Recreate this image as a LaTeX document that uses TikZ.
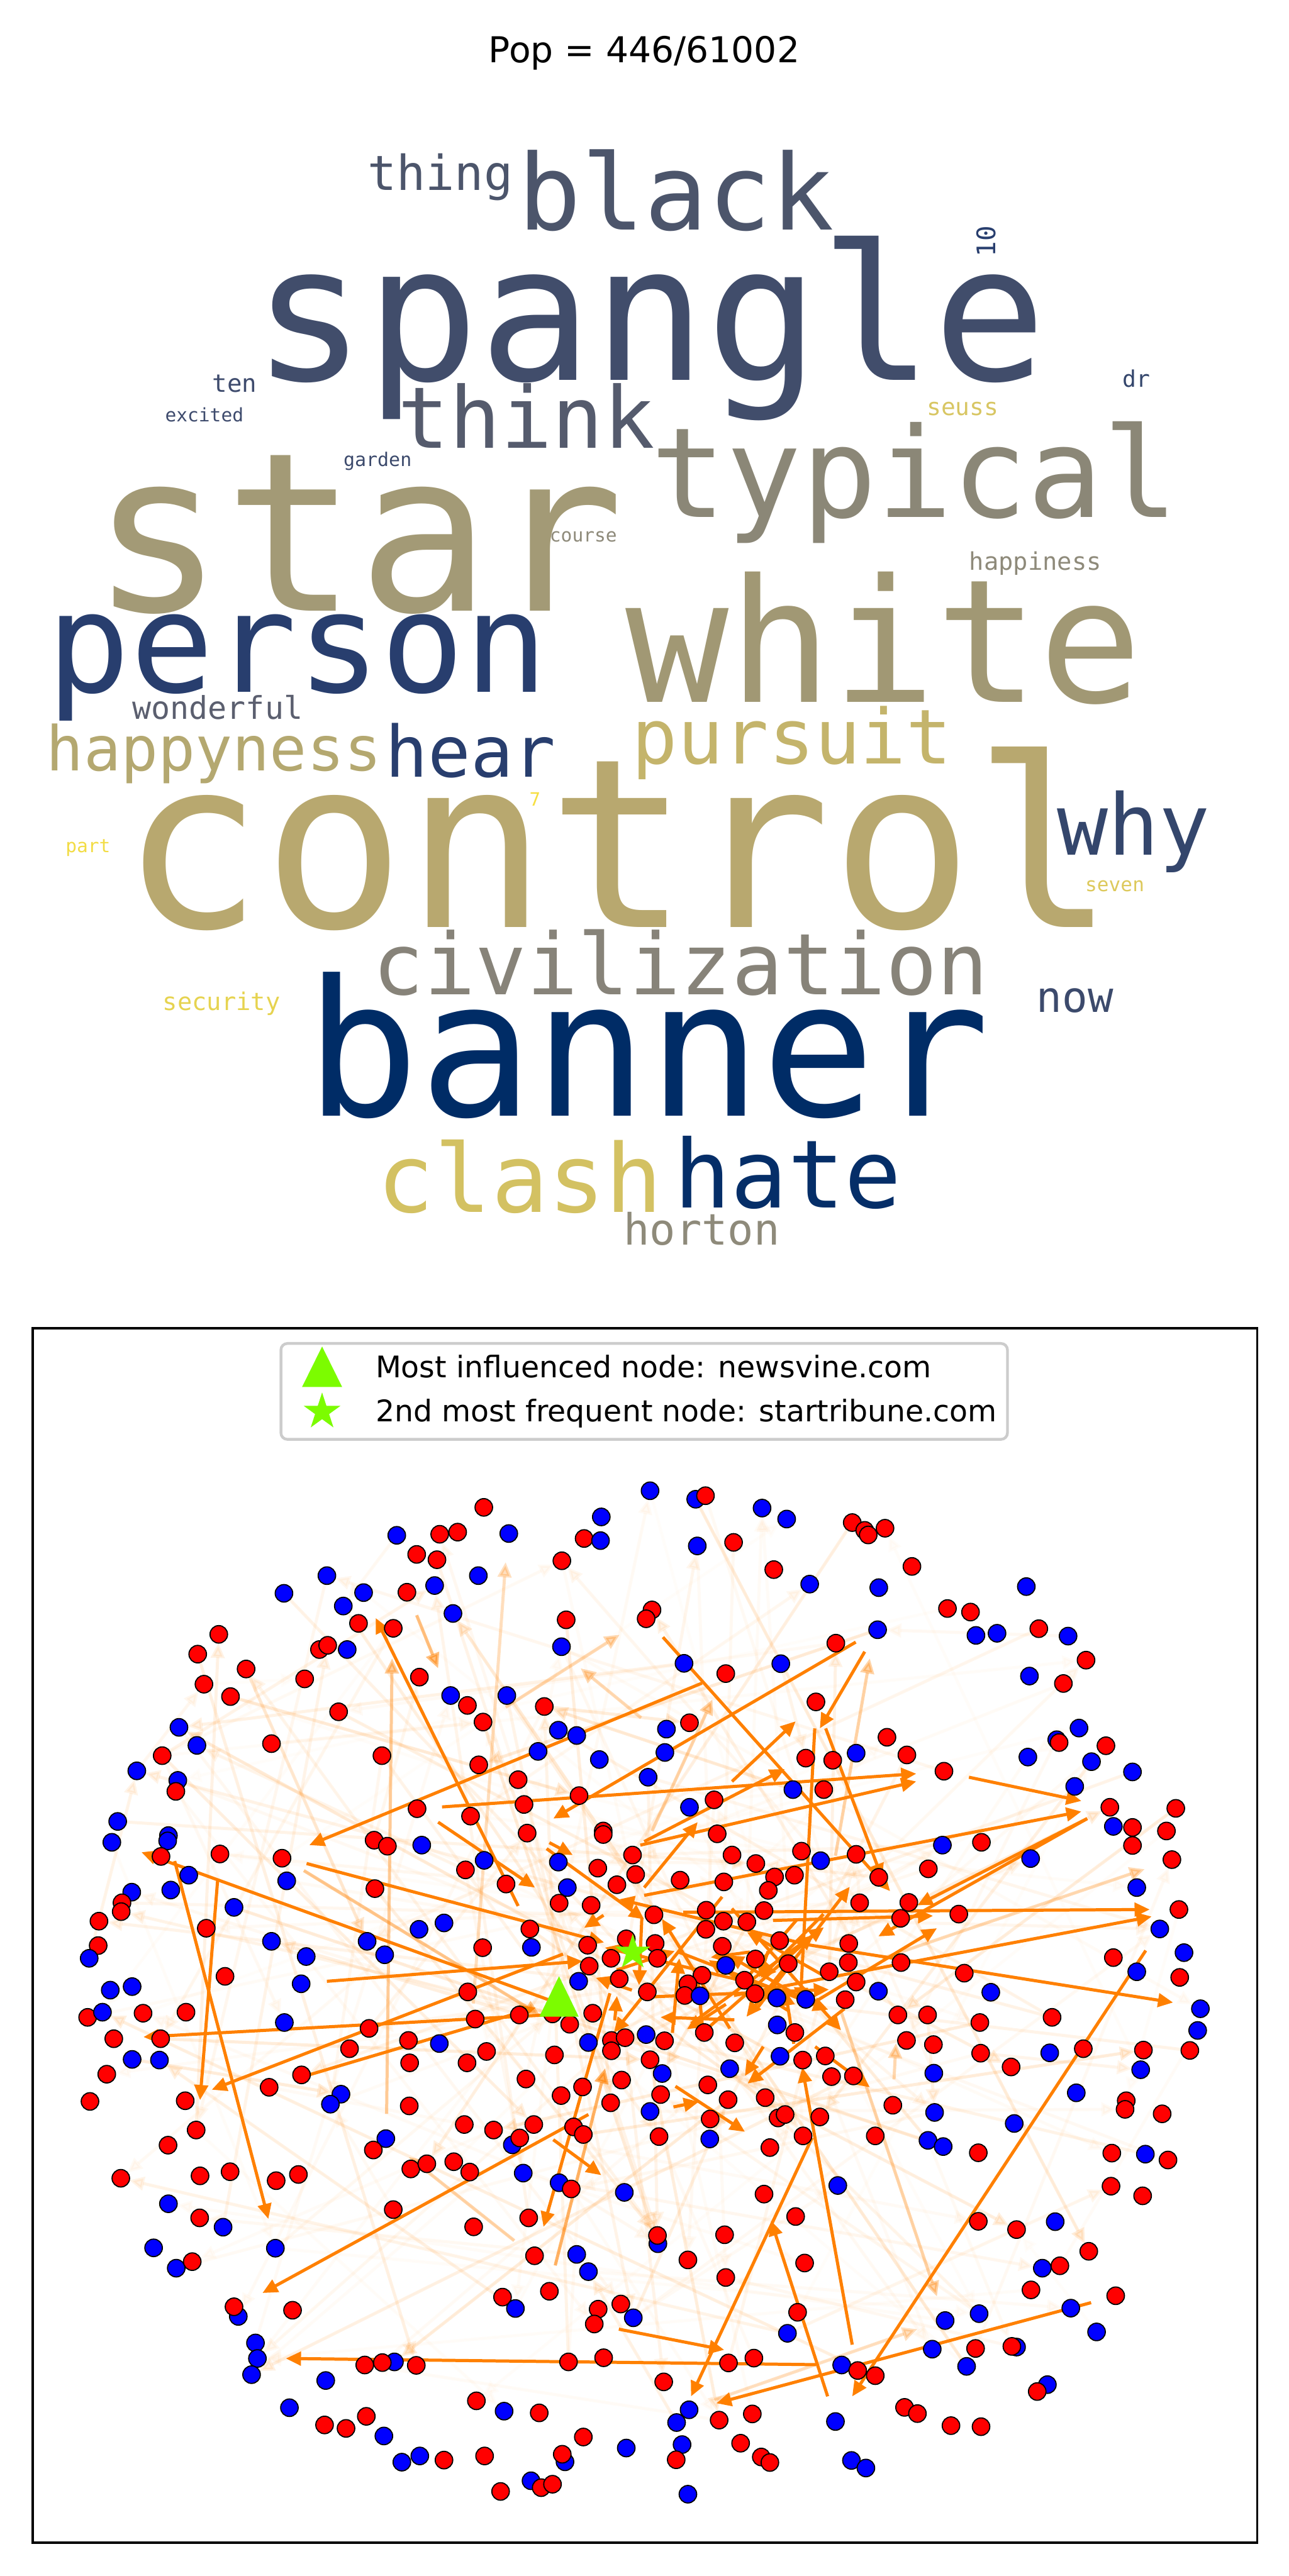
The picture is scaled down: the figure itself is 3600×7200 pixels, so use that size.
\documentclass[tikz,border=0pt]{standalone}
\usepackage{fontspec}
\setmainfont{DejaVu Sans}
\newfontfamily\wcfont{DejaVu Sans Mono}
\usetikzlibrary{arrows.meta,shapes.geometric}
\newcommand\wcf[1]{\wcfont\fontsize{#1pt}{#1pt}\selectfont}
\definecolor{r}{HTML}{FF0000}
\definecolor{b}{HTML}{0000FF}
\definecolor{orng}{RGB}{255,128,0}
\definecolor{lgreen}{HTML}{7CFC00}
\definecolor{legendgray}{HTML}{CCCCCC}
\definecolor{cBanner}{HTML}{002C66}
\definecolor{cHate}{HTML}{052E68}
\definecolor{cPerson}{HTML}{283E6E}
\definecolor{cSpangle}{HTML}{414D6B}
\definecolor{cBlack}{HTML}{4C556B}
\definecolor{cThink}{HTML}{555B6D}
\definecolor{cWhy}{HTML}{34466C}
\definecolor{cNow}{HTML}{3C4A6C}
\definecolor{cTen}{HTML}{3E4B6D}
\definecolor{cWonder}{HTML}{5B5F6F}
\definecolor{cCiv}{HTML}{878379}
\definecolor{cHorton}{HTML}{8E8A7A}
\definecolor{cTypical}{HTML}{8B8777}
\definecolor{cWhite}{HTML}{A19874}
\definecolor{cStar}{HTML}{A39A76}
\definecolor{cHappyness}{HTML}{B4A870}
\definecolor{cControl}{HTML}{B8A86F}
\definecolor{cPursuit}{HTML}{C4B46B}
\definecolor{cClash}{HTML}{D3C162}
\definecolor{cSeuss}{HTML}{D8C663}
\definecolor{cSeven}{HTML}{DDC95C}
\definecolor{cSecurity}{HTML}{E6D350}
\definecolor{cPart}{HTML}{F2DC45}
\definecolor{cSevenD}{HTML}{F6DF41}
\def\ptsA{r/1157/165, b/1458/192, b/934/244, r/1044/241, r/1090/235, b/1221/239, r/1414/253, b/1456/259, r/985/298, r/1037/313, r/1357/316, b/755/358, b/1143/358, b/645/408, b/849/406, r/960/405, b/1031/386, b/797/444, b/1078/465, r/1368/483, r/478/524, r/836/493, r/925/507, b/1356/559, r/424/580, r/736/567, r/757/555, b/807/567, r/548/622, r/698/650, r/992/645, r/440/665, r/508/700, b/1072/697, b/1216/697, r/1115/725, r/1312/728, r/785/743, r/1155/772, b/376/787, b/1348/795, b/1395/810, r/613/833, b/422/838, r/333/867, r/896/867, b/1296/855, b/1453/878, r/1144/893, b/268/910, b/373/937, r/368/968, r/1245/935, r/1401/980, r/986/1017, r/1260/1005, r/1123/1038, b/219/1053, b/349/1093, b/347/1108, b/204/1112, r/876/1106, r/910/1123, b/998/1120, r/1268/1086, r/1463/1080, r/1463/1090, r/330/1152, r/481/1145, r/640/1157, b/652/1221, b/401/1205, b/1158/1163, r/1110/1190, b/1348/1168, r/1538/1148, r/1449/1185, r/1546/1203, r/1498/1232, b/255/1253, b/355/1247, r/878/1243, r/1214/1230, b/1371/1240, r/230/1283, r/228/1308, b/517/1296, r/1350/1284, r/1432/1290, r/171/1335, r/446/1355, b/991/1358, b/1055/1340, r/1275/1357, r/169/1404, b/146/1440, b/613/1392, b/858/1392, b/903/1430, b/702/1435, r/1154/1410, b/1279/1409, r/1423/1403, r/1522/1385, r/1427/1462, r/1483/1440, b/200/1530, b/256/1520, r/494/1491, b/689/1512, r/1116/1535, b/1400/1505, r/1504/1498}
\def\ptsB{b/15/118, b/132/142, r/157/132, b/302/167, b/365/198, r/533/208, r/565/230, r/574/243, r/617/224, b/136/274, r/229/264, r/332/341, b/424/382, b/601/392, r/686/332, b/979/389, r/777/451, r/836/461, b/850/527, b/904/521, r/1011/508, b/1086/529, r/20/455, r/5/480, b/598/511, r/491/549, r/1132/597, b/102/606, b/350/607, r/209/635, b/987/642, r/1074/663, r/440/715, b/57/792, r/116/774, b/1114/789, b/1057/822, r/1063/830, r/1183/839, b/53/858, r/622/815, r/673/865, b/543/860, r/414/874, r/483/880, r/768/911, b/983/871, b/1146/884, b/1251/913, b/10/928, b/381/963, r/460/963, b/1103/954, r/179/992, r/1193/1013, r/1362/1016, b/116/1013, b/1202/1067, r/1251/1070, r/1338/1080, r/187/1088, r/1251/1121, b/764/1120, r/864/1112, r/225/1148, r/403/1137, r/543/1146, b/452/1164, b/990/1158, r/286/1172, r/1352/1161, r/728/1187, r/92/1219, r/204/1224, r/334/1210, r/385/1205, r/601/1211, r/318/1248, b/1262/1240, r/552/1283, r/678/1282, r/25/1317, r/159/1304, r/307/1305, r/203/1335, r/263/1337, r/657/1327, r/806/1315, r/1370/1302, b/1321/1357, r/158/1358, r/347/1390, r/524/1398, r/200/1406, r/28/1398, r/34/1440, b/209/1460, r/285/1442, r/369/1455, r/474/1478, r/523/1452, r/658/1452, r/820/1482, r/1202/1438, b/1383/1424, b/1262/1478, r/1372/1494, r/148/1488, r/112/1512, r/257/1502, r/543/1507, b/600/1533, b/888/1536, r/8/1535, r/104/1545, b/143/1546, r/284/1540, b/340/1552, b/414/1556, r/515/1557}
\def\ptsC{r/142/40, b/180/25, r/284/28, r/394/25, b/646/55, r/863/72, r/1135/45, r/1248/33, r/1333/30, r/1377/60, r/1436/28, r/209/102, r/329/102, b/256/162, b/326/164, r/191/205, r/148/284, r/392/282, r/813/131, r/964/107, b/1043/116, r/967/172, r/1114/172, r/1164/139, r/1338/149, b/1425/113, r/1484/107, r/1519/99, r/1484/137, r/690/207, r/607/243, b/791/263, b/764/292, r/966/297, r/1265/219, r/1355/267, r/1410/242, r/1510/222, r/1482/288, r/420/367, r/348/411, b/906/392, r/874/425, r/1107/351, r/1182/367, r/1285/351, b/1230/410, r/1249/390, r/1387/358, r/1412/380, r/227/507, r/430/500, r/507/488, r/625/514, r/682/496, r/970/480, r/1011/465, r/1080/459, r/1121/489, b/1258/492, b/1350/520, r/1381/538, b/1517/548, b/349/581, r/429/622, b/489/649, r/925/598, r/1131/648, r/1272/622, b/311/709, b/623/710, b/369/768, r/410/749, r/1287/732, b/1395/728, b/1425/778, b/528/908, r/517/880, r/667/890, r/1205/852, b/1238/885, r/1325/835, r/1450/887, r/1440/930, r/1508/872, b/1540/912, b/572/985, b/577/1030, b/562/1077, r/852/1049, b/928/1040, r/897/1042, r/984/1050, r/1374/1040, r/1464/1028, b/752/1094, r/1138/1153, b/1209/1183, r/1299/1188, b/659/1173, r/749/1223, r/804/1233, r/856/1198, b/901/1255, r/1412/1258, b/1522/1290, b/947/1331, b/993/1313, r/1055/1325, r/1159/1313, b/1365/1330, r/1358/1308, b/1278/1385, r/1304/1405, r/1333/1395, r/1200/1416}
\def\ptsD{b/1425/15, r/650/33, r/726/33, r/860/55, r/1045/40, b/1418/78, b/5/90, r/52/108, r/154/84, b/341/62, r/386/84, r/672/107, r/741/119, r/1279/135, r/1398/136, r/1125/131, b/1039/143, r/862/144, r/940/184, b/1272/192, r/15/163, b/46/203, r/232/114, b/219/189, b/348/153, r/406/164, r/464/152, r/480/212, r/536/210, b/742/202, r/163/236, r/42/264, r/215/279, r/310/273, b/1107/259, r/1235/282, r/1232/307, r/1327/320, r/637/295, b/744/316, b/948/348, b/15/313, r/169/335, r/343/332, r/361/322, r/450/329, r/38/386, b/168/393, r/322/418, r/407/384, r/592/384, b/727/397, b/766/415, r/856/433, r/1198/434, b/1284/437, r/1342/454, b/496/528, r/307/553, r/1196/530, r/1277/558, r/388/618, r/856/632, r/954/656, b/1053/633, b/35/697, r/34/673, r/206/671, r/1139/719, r/112/744, r/411/753, b/1020/768, r/1065/761, r/209/795, r/991/831, r/1208/848, r/393/896, b/1093/884, b/771/920, b/858/900, b/367/957, b/1159/953, b/738/1003, b/954/997, r/942/995, r/849/1001, b/826/1053, r/216/1043, r/281/1029, b/506/1049, r/547/1065, r/592/1080, r/50/1098, b/1033/1106, r/1007/1126, b/115/1179, b/83/1216, r/192/1209, r/277/1191, b/490/1213, r/667/1172, r/700/1190, r/786/1225, r/863/1228, b/97/1280, r/247/1276, r/82/1324, r/300/1316, r/322/1332, b/531/1326, b/568/1348, b/112/1424}
\begin{document}
\begin{tikzpicture}[x=0.005cm,y=-0.005cm,
  wc/.style={anchor=base, inner sep=0pt, outer sep=0pt},
  dot/.style={circle, inner sep=0pt, outer sep=0pt, minimum size=0.245cm, draw=black, line width=0.45pt},
  sarrow/.style={draw=orng, fill=orng, line width=1.25pt, -{Triangle[length=6pt,width=5.4pt]}},
  cropA/.style={shift={(90,4050)},xscale=1.0906,yscale=0.98852},
  cropB/.style={shift={(1800,4050)},xscale=1.0906,yscale=0.98852},
  cropC/.style={shift={(90,5600)},xscale=1.0906,yscale=0.963},
  cropD/.style={shift={(1800,5600)},xscale=1.0906,yscale=0.963}]
\useasboundingbox (0,0) rectangle (3600,7200);
% ---------- title ----------
\node[anchor=base, inner sep=0pt, font=\fontsize{14.2pt}{14.2pt}\selectfont] (title) at (1800,175) {Pop = 446/61002};
% ---------- word cloud ----------
\node[wc,text=cControl,font=\wcf{93.9}] (wcontrol) at (1728,2592) {control};
\node[wc,text=cStar,font=\wcf{88.2}] (wstar) at (1000,1708) {star};
\node[wc,text=cSpangle,font=\wcf{75.0}] (wspangle) at (1815,1063) {spangle};
\node[wc,text=cBanner,font=\wcf{75.4}] (wbanner) at (1810,3119) {banner};
\node[wc,text=cWhite,font=\wcf{68.3}] (wwhite) at (2470,1962) {white};
\node[wc,text=cPerson,font=\wcf{55.2}] (wperson) at (831,1934) {person};
\node[wc,text=cTypical,font=\wcf{49.8}] (wtypical) at (2556,1445) {typical};
\node[wc,text=cBlack,font=\wcf{41.8}] (wblack) at (1890,642) {black};
\node[wc,text=cClash,font=\wcf{37.7}] (wclash) at (1453,3388) {clash};
\node[wc,text=cHate,font=\wcf{37.6}] (whate) at (2201,3376) {hate};
\node[wc,text=cWhy,font=\wcf{33.7}] (wwhy) at (3167,2389) {why};
\node[wc,text=cThink,font=\wcf{33.9}] (wthink) at (1471,1252) {think};
\node[wc,text=cCiv,font=\wcf{33.9}] (wciv) at (1902,2780) {civilization};
\node[wc,text=cPursuit,font=\wcf{30.2}] (wpursuit) at (2213,2135) {pursuit};
\node[wc,text=cPerson,font=\wcf{28.2}] (whear) at (1315,2171) {hear};
\node[wc,text=cHappyness,font=\wcf{24.6}] (whappyness) at (598,2154) {happyness};
\node[wc,text=cBlack,font=\wcf{19.2}] (wthing) at (1230,532) {thing};
\node[wc,text=cHorton,font=\wcf{17.2}] (whorton) at (1961,3479) {horton};
\node[wc,text=cNow,font=\wcf{16.9}] (wnow) at (3004,2830) {now};
\node[wc,text=cWonder,font=\wcf{12.5}] (wwonderful) at (608,2010) {wonderful};
\node[wc,text=cPerson,font=\wcf{10.2},rotate=90] (wten10) at (2782,675) {10};
\node[wc,text=cTen,font=\wcf{9.8}] (wten) at (656,1096) {ten};
\node[wc,text=cSecurity,font=\wcf{9.7}] (wsecurity) at (619,2824) {security};
\node[wc,text=cHorton,font=\wcf{9.7}] (whappiness) at (2893,1594) {happiness};
\node[wc,text=cSeuss,font=\wcf{9.5}] (wseuss) at (2690,1161) {seuss};
\node[wc,text=cWhy,font=\wcf{9.1}] (wdr) at (3175,1082) {dr};
\node[wc,text=cSeven,font=\wcf{7.8}] (wseven) at (3115,2492) {seven};
\node[wc,text=cTen,font=\wcf{7.4}] (wexcited) at (571,1178) {excited};
\node[wc,text=cNow,font=\wcf{7.5}] (wgarden) at (1055,1304) {garden};
\node[wc,text=cHorton,font=\wcf{7.4}] (wcourse) at (1630,1515) {course};
\node[wc,text=cPart,font=\wcf{7.4}] (wpart) at (246,2383) {part};
\node[wc,text=cSevenD,font=\wcf{7.3}] (wseven7) at (1495,2252) {7};
% ---------- graph: coordinates ----------
\begin{scope}[cropA]
\foreach \cc/\x/\y [count=\k] in \ptsA {\coordinate (pa\k) at (\x,\y);}
\coordinate (A1h) at (710,1120);
\coordinate (A2t) at (1245,1292); \coordinate (A2h) at (880,478);
\coordinate (A3t) at (1050,1012);
\coordinate (A4h) at (1335,1045);
\coordinate (A5t) at (1040,1055); \coordinate (A5h) at (1288,1240);
\coordinate (A6t) at (1325,1113); \coordinate (A6h) at (1385,1148);
\coordinate (A7t) at (1330,1560); \coordinate (A7h) at (280,1140);
\coordinate (B1t) at (365,1165); \coordinate (B2t) at (475,1220);
\coordinate (A9t) at (703,1172); \coordinate (A9h) at (1465,1395);
\coordinate (A11t) at (755,1505); \coordinate (A11h) at (1410,1448);
\coordinate (A12t) at (1360,1428);
\coordinate (A13t) at (696,1192); \coordinate (A13h) at (1300,1600);
\coordinate (A14t) at (1318,1130); \coordinate (A14h) at (1568,1330);
\coordinate (M1h) at (922,592);
\coordinate (M2t) at (985,470); \coordinate (M2h) at (1040,620);
\coordinate (M3t) at (1213,730); \coordinate (M3h) at (1505,525);
\coordinate (M5t) at (1130,1568); \coordinate (M5h) at (1213,320);
\coordinate (M6t) at (1560,760); \coordinate (M6h) at (1405,620);
\end{scope}
\begin{scope}[cropB]
\foreach \cc/\x/\y [count=\k] in \ptsB {\coordinate (pb\k) at (\x,\y);}
\coordinate (A1t) at (148,662); \coordinate (A3h) at (697,918); \coordinate (A4t) at (542,546);
\coordinate (E1t) at (48,532); \coordinate (E1h) at (630,1250);
\coordinate (E2t) at (565,573); \coordinate (E2h) at (450,790);
\coordinate (E3t) at (465,790); \coordinate (E3h) at (610,1215);
\coordinate (E4t) at (225,940); \coordinate (E4h) at (388,770);
\coordinate (E7t) at (-10,1120); \coordinate (E7h) at (697,940);
\coordinate (E8t) at (0,1262); \coordinate (E8h) at (1120,1025);
\coordinate (E9t) at (832,928); \coordinate (E9h) at (1120,995);
\coordinate (E10t) at (1135,1045); \coordinate (E10h) at (600,1378); \coordinate (E10bh) at (700,1290);
\coordinate (E11t) at (100,1310); \coordinate (E11h) at (1295,1302);
\coordinate (E12t) at (230,1545); \coordinate (E12h) at (1300,1322);
\coordinate (E13t) at (410,1400); \coordinate (E13h) at (1355,1565);
\coordinate (E16t) at (0,1240); \coordinate (E16h) at (137,1055);
\coordinate (E17t) at (330,1333); \coordinate (E17h) at (740,1320);
\coordinate (E18t) at (430,1568); \coordinate (E18h) at (750,1355);
\coordinate (E20t) at (0,1110); \coordinate (E20h) at (360,905);
\coordinate (E25t) at (437,790); \coordinate (E25h) at (400,1565);
\coordinate (D2t) at (1285,1418);
\coordinate (M7t) at (490,1150); \coordinate (M7h) at (578,592);
\coordinate (M8t) at (20,1080); \coordinate (M8h) at (175,708);
\coordinate (M12t) at (610,1440); \coordinate (M12h) at (1282,1188);
\end{scope}
\begin{scope}[cropC]
\foreach \cc/\x/\y [count=\k] in \ptsC {\coordinate (pc\k) at (\x,\y);}
\coordinate (B1h) at (605,625); \coordinate (B2h) at (430,280); \coordinate (A12h) at (460,250);
\coordinate (C1t) at (1330,32); \coordinate (C1h) at (285,97);
\coordinate (C2t) at (670,220); \coordinate (C2h) at (1290,12);
\coordinate (C3t) at (1425,322); \coordinate (C3h) at (590,840);
\coordinate (C4t) at (1480,-30); \coordinate (C4h) at (1310,648);
\coordinate (C5t) at (1340,760); \coordinate (C5h) at (1468,188);
\coordinate (C6t) at (1335,395); \coordinate (C6h) at (1458,498);
\coordinate (C7h) at (650,1030);
\coordinate (C8t) at (1503,945);
\coordinate (M1t) at (908,320);
\coordinate (M11t) at (1235,688); \coordinate (M11h) at (965,445);
\end{scope}
\begin{scope}[cropD]
\foreach \cc/\x/\y [count=\k] in \ptsD {\coordinate (pd\k) at (\x,\y);}
\coordinate (C7t) at (440,1048); \coordinate (C8h) at (205,1005);
\coordinate (D1t) at (1145,868); \coordinate (D1h) at (185,1160);
\coordinate (D2h) at (533,1140);
\coordinate (D3t) at (470,1140); \coordinate (D3h) at (325,630);
\coordinate (D4t) at (533,990); \coordinate (D4h) at (405,185);
\coordinate (D5t) at (430,390); \coordinate (D5h) at (120,1140);
\coordinate (D6t) at (438,125); \coordinate (D6h) at (578,243);
\coordinate (D7t) at (305,125); \coordinate (D7h) at (258,210);
\coordinate (D8t) at (80,240); \coordinate (D8h) at (258,372);
\coordinate (D9t) at (513,15); \coordinate (D9h) at (265,232);
\coordinate (D10t) at (75,300); \coordinate (D10h) at (140,285);
\coordinate (M9t) at (640,220); \coordinate (M9h) at (645,115);
\coordinate (M10t) at (505,25); \coordinate (M10h) at (750,850);
\coordinate (M13t) at (180,1150); \coordinate (M13h) at (700,945);
\end{scope}
% ---------- faint edges ----------
\pgfmathsetseed{7}
\pgfmathdeclarerandomlist{crops}{{a}{b}{c}{d}}
\foreach \i in {1,...,200}{
  \pgfmathrandomitem{\ca}{crops}\pgfmathrandomitem{\cb}{crops}
  \pgfmathrandominteger{\ia}{1}{100}\pgfmathrandominteger{\dd}{1}{98}
  \pgfmathtruncatemacro{\ib}{mod(\ia+\dd-1,100)+1}
  \pgfmathsetmacro{\op}{0.02+0.17*rnd*rnd}
  \draw[sarrow, opacity=\op, shorten >=0.12cm] (p\ca\ia) -- (p\cb\ib);
}
% ---------- medium arrows ----------
\draw[sarrow, opacity=0.45] (A13t) -- (A13h);
\draw[sarrow, opacity=0.4] (M1t) -- (M1h);
\draw[sarrow, opacity=0.5] (M2t) -- (M2h);
\draw[sarrow, opacity=0.3] (M3t) -- (M3h);
\draw[sarrow, opacity=0.25] (M5t) -- (M5h);
\draw[sarrow, opacity=0.3] (M6t) -- (M6h);
\draw[sarrow, opacity=0.35] (M7t) -- (M7h);
\draw[sarrow, opacity=0.35] (M8t) -- (M8h);
\draw[sarrow, opacity=0.3] (M9t) -- (M9h);
\draw[sarrow, opacity=0.35] (M10t) -- (M10h);
\draw[sarrow, opacity=0.35] (M11t) -- (M11h);
\draw[sarrow, opacity=0.3] (M12t) -- (M12h);
\draw[sarrow, opacity=0.25] (M13t) -- (M13h);
\draw[sarrow, opacity=0.6] (C5t) -- (C5h);
% ---------- strong arrows ----------
\foreach \s/\e in {A1t/A1h, A2t/A2h, A3t/A3h, A4t/A4h, A5t/A5h, A6t/A6h, A7t/A7h, B1t/B1h, B2t/B2h, A9t/A9h, A11t/A11h, A12t/A12h, A14t/A14h,
  E1t/E1h, E2t/E2h, E3t/E3h, E4t/E4h, E7t/E7h, E8t/E8h, E9t/E9h, E10t/E10h, E10t/E10bh, E11t/E11h, E12t/E12h, E13t/E13h, E16t/E16h, E17t/E17h, E18t/E18h, E20t/E20h, E25t/E25h, D2t/D2h,
  C1t/C1h, C2t/C2h, C3t/C3h, C4t/C4h, C6t/C6h, C7t/C7h, C8t/C8h,
  D1t/D1h, D3t/D3h, D4t/D4h, D5t/D5h, D6t/D6h, D7t/D7h, D8t/D8h, D9t/D9h, D10t/D10h}
  {\draw[sarrow] (\s) -- (\e);}
\foreach \i in {1,...,28}{
  \pgfmathsetmacro\ax{2000+rand*320}\pgfmathsetmacro\ay{5520+rand*220}
  \pgfmathsetmacro\bx{2000+rand*380}\pgfmathsetmacro\by{5520+rand*250}
  \coordinate (cs\i) at (\ax,\ay); \coordinate (ce\i) at (\bx,\by);
  \draw[sarrow] (cs\i) -- (ce\i);
}
% ---------- dots ----------
\begin{scope}[cropA]
\foreach \cc/\x/\y [count=\k] in \ptsA {\node[dot, fill=\cc] (a\k) at (\x,\y) {};}
\end{scope}
\begin{scope}[cropB]
\foreach \cc/\x/\y [count=\k] in \ptsB {\node[dot, fill=\cc] (b\k) at (\x,\y) {};}
\end{scope}
\begin{scope}[cropC]
\foreach \cc/\x/\y [count=\k] in \ptsC {\node[dot, fill=\cc] (c\k) at (\x,\y) {};}
\end{scope}
\begin{scope}[cropD]
\foreach \cc/\x/\y [count=\k] in \ptsD {\node[dot, fill=\cc] (d\k) at (\x,\y) {};}
\end{scope}
% ---------- special markers ----------
\coordinate (gtri) at (1562,5580);
\fill[lgreen] (gtri) ++(0,0.283cm) -- ++(-0.275cm,-0.566cm) -- ++(0.55cm,0) -- cycle;
\node[star, star points=5, star point ratio=2.618, fill=lgreen, inner sep=0pt, minimum size=0.52cm] (gstar) at (1768,5457) {};
% ---------- axes frame ----------
\draw[line width=0.95pt] (92,3713) rectangle (3513,7107);
% ---------- legend ----------
\draw[draw=legendgray, fill=white, fill opacity=0.8, line width=1.1pt, rounded corners=0.09cm] (785,3755) rectangle (2815,4023);
\coordinate (ltri) at (900,3820);
\fill[lgreen] (ltri) ++(0,0.283cm) -- ++(-0.28cm,-0.566cm) -- ++(0.56cm,0) -- cycle;
\node[star, star points=5, star point ratio=2.618, fill=lgreen, inner sep=0pt, minimum size=0.54cm] (lstar) at (900,3946) {};
\node[anchor=base west, inner sep=0pt, font=\fontsize{11.85pt}{11.85pt}\selectfont] (l1) at (1048,3851) {Most influenced node: newsvine.com};
\node[anchor=base west, inner sep=0pt, font=\fontsize{11.85pt}{11.85pt}\selectfont] (l2) at (1048,3974) {2nd most frequent node: startribune.com};
\end{tikzpicture}
\end{document}
